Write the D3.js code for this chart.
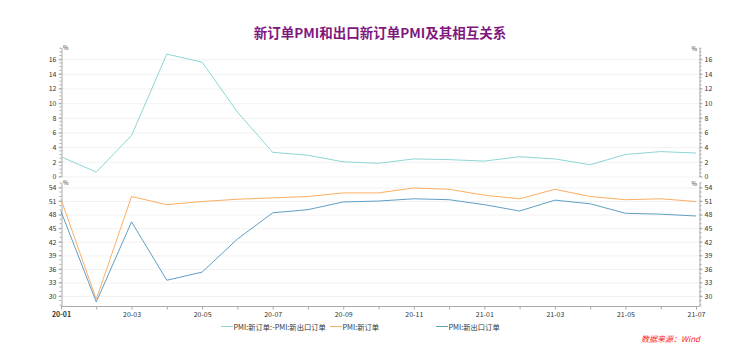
<!DOCTYPE html>
<html>
<head>
<meta charset="utf-8">
<script src="https://cdn.jsdelivr.net/npm/d3@7"></script>
<style>
  body { margin: 0; background: #fff; }
  text { font-family: "Noto Sans CJK SC", "Noto Sans", sans-serif; }
</style>
</head>
<body>
<div class="chart--container"></div>
<script>
// months 20-01 .. 21-07
let months = ['20-01','20-02','20-03','20-04','20-05','20-06','20-07','20-08','20-09','20-10',
              '20-11','20-12','21-01','21-02','21-03','21-04','21-05','21-06','21-07'],
    newOrders = [51.4, 29.3, 52.0, 50.2, 50.9, 51.4, 51.7, 52.0, 52.8, 52.8,
                 53.9, 53.6, 52.3, 51.5, 53.6, 52.0, 51.3, 51.5, 50.9],
    exportOrders = [48.7, 28.7, 46.4, 33.5, 35.3, 42.6, 48.4, 49.1, 50.8, 51.0,
                    51.5, 51.3, 50.2, 48.8, 51.2, 50.4, 48.3, 48.1, 47.7],
    spread = [2.7, 0.6, 5.6, 16.7, 15.6, 8.8, 3.3, 2.9, 2.0, 1.8,
              2.4, 2.3, 2.1, 2.7, 2.4, 1.6, 3.0, 3.4, 3.2],
    topTicks = [0, 2, 4, 6, 8, 10, 12, 14, 16],
    botTicks = [30, 33, 36, 39, 42, 45, 48, 51, 54],
    seriesNames = ['PMI:新订单:-PMI:新出口订单', 'PMI:新订单', 'PMI:新出口订单'],
    colors = ['#8ed6d6', '#fcae63', '#5fa0c4'];

let W = 732, H = 361,
    xL = 61, xR = 696, axR = 699;

let svg = d3.select('.chart--container')
            .append('svg')
            .attr('width', W)
            .attr('height', H);

// title
svg.append('text')
    .attr('x', 380).attr('y', 38)
    .attr('text-anchor', 'middle')
    .attr('font-size', 13.5).attr('font-weight', 'bold')
    .attr('fill', '#7f177f')
    .text('新订单PMI和出口新订单PMI及其相互关系');

let scale_x = d3.scalePoint().domain(months).range([xL, xR]);

let y_top = d3.scaleLinear().domain([0, 17.6]).range([176.5, 47.5]),
    y_bot = d3.scaleLinear().domain([27.7, 55.1]).range([306.5, 182.5]);

function panel(scale_y, ticks, minorStep) {
    let g = svg.append('g');
    // grid
    g.selectAll('line.grid')
        .data(ticks)
        .enter().append('line')
        .attr('x1', xL).attr('x2', axR)
        .attr('y1', d => scale_y(d) + 0.5).attr('y2', d => scale_y(d) + 0.5)
        .attr('stroke', '#f2f2f2');

    let dom = scale_y.domain(),
        minor = d3.range(Math.ceil(dom[0] / minorStep) * minorStep, dom[1], minorStep);

    // left axis
    let left = g.append('g')
        .attr('transform', `translate(${xL + 0.5},0)`)
        .call(d3.axisLeft(scale_y).tickValues(ticks).tickSize(3).tickPadding(2).tickSizeOuter(0));
    left.selectAll('.minor').data(minor).enter().append('line')
        .attr('x1', 0).attr('x2', -2)
        .attr('y1', d => scale_y(d)).attr('y2', d => scale_y(d))
        .attr('stroke', '#aaa');

    // right axis
    let right = g.append('g')
        .attr('transform', `translate(${axR + 0.5},0)`)
        .call(d3.axisRight(scale_y).tickValues(ticks).tickSize(3).tickPadding(2).tickSizeOuter(0));
    right.selectAll('.minor').data(minor).enter().append('line')
        .attr('x1', 0).attr('x2', 2)
        .attr('y1', d => scale_y(d)).attr('y2', d => scale_y(d))
        .attr('stroke', '#aaa');

    [left, right].forEach(a => {
        a.select('.domain').attr('stroke', '#aaa');
        a.selectAll('.tick line').attr('stroke', '#aaa');
        a.selectAll('.tick text').attr('font-size', 7).attr('fill', '#333');
    });

    // unit labels
    let top = scale_y.range()[1];
    g.append('text').attr('x', xL + 2).attr('y', top + 2)
        .attr('font-size', 6).attr('fill', '#333').text('%');
    g.append('text').attr('x', axR - 2).attr('y', top + 3)
        .attr('text-anchor', 'end')
        .attr('font-size', 6).attr('fill', '#333').text('%');
}

panel(y_top, topTicks, 0.5);
panel(y_bot, botTicks, 1);

// x-axis
let xa = svg.append('g')
    .attr('transform', `translate(0, ${306.5})`)
    .call(d3.axisBottom(scale_x).tickSize(3).tickSizeOuter(0)
        .tickFormat((d, i) => i % 2 === 0 ? d : ''));
xa.select('.domain').attr('stroke', '#aaa').attr('d', `M${xL},0H${axR}`);
xa.selectAll('.tick line').attr('stroke', '#aaa');
xa.selectAll('.tick text').attr('font-size', 7).attr('fill', '#333')
    .attr('font-weight', (d, i) => i === 0 ? 'bold' : 'normal');

// lines
let line = scale_y => d3.line()
    .x((d, i) => scale_x(months[i]))
    .y(d => scale_y(d));

svg.append('path').datum(spread)
    .attr('d', line(y_top)).attr('fill', 'none')
    .attr('stroke', colors[0]).attr('stroke-width', 1);
svg.append('path').datum(newOrders)
    .attr('d', line(y_bot)).attr('fill', 'none')
    .attr('stroke', colors[1]).attr('stroke-width', 1);
svg.append('path').datum(exportOrders)
    .attr('d', line(y_bot)).attr('fill', 'none')
    .attr('stroke', colors[2]).attr('stroke-width', 1);

// legend
let legX = [221, 330, 436];
let leg = svg.append('g').selectAll('g')
    .data(seriesNames)
    .enter().append('g')
    .attr('transform', (d, i) => `translate(${legX[i]}, 327)`);
leg.append('line').attr('x1', 0).attr('x2', 12).attr('y1', -0.5).attr('y2', -0.5)
    .attr('stroke', (d, i) => colors[i]).attr('stroke-width', 1);
leg.append('text').attr('x', 12.5).attr('y', 2.8)
    .attr('font-size', 7.3).attr('fill', '#333')
    .text(d => d);

// source
svg.append('text')
    .attr('x', 700).attr('y', 342)
    .attr('text-anchor', 'end')
    .attr('font-size', 8).attr('font-style', 'italic')
    .attr('fill', '#ff2020')
    .text('数据来源：Wind');
</script>
</body>
</html>
